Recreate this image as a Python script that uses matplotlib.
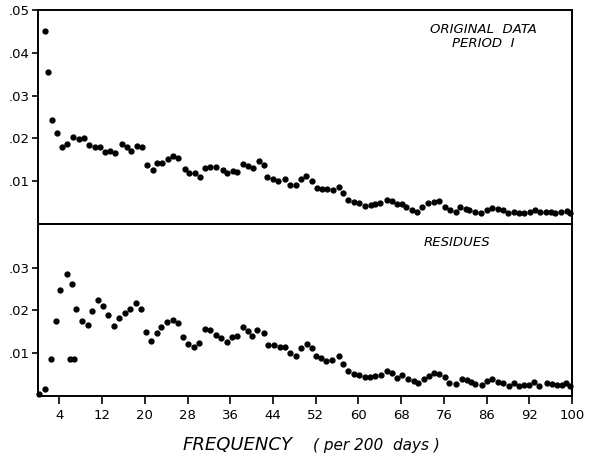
import matplotlib
matplotlib.use("Agg")
import matplotlib.pyplot as plt

# power spectrum, original data (period I)
top_freq = [1.3, 1.8,
            2.6, 3.5, 4.5, 5.5, 6.5, 7.6, 8.6, 9.6, 10.6, 11.7, 12.5, 13.5, 14.4, 15.7, 16.6, 17.5,
            18.5, 19.5, 20.5, 21.5, 22.2, 23.3, 24.3, 25.3, 26.3, 27.5, 28.2, 29.4, 30.3, 31.2, 32.3,
            33.3, 34.6, 35.3, 36.5, 37.3,
            38.3, 39.3, 40.3, 41.3, 42.4, 42.9, 44.0, 45.0, 46.2, 47.1, 48.3, 49.3, 50.2, 51.3, 52.3,
            53.2, 54.2, 55.2, 56.4, 57.2, 58.1, 59.2, 60.2, 61.3, 62.3, 63.2, 64.0, 65.4, 66.2, 67.2,
            68.1, 69.0, 70.0, 71.0, 72.0, 73.1, 74.1, 75.0,
            76.2, 77.2, 78.2, 79.0, 80.1, 80.8, 81.9, 82.9, 84.0, 85.1, 86.1, 87.1, 88.0, 89.1, 90.1,
            91.1, 92.1, 93.1, 94.0, 95.1, 96.1, 96.9, 97.9, 99.1, 99.6]
top_power = [.0452, .0354,
             .0243, .0212, .0180, .0186, .0204, .0198, .0200, .0185, .0179, .0181, .0169, .0171, .0165,
             .0186, .0180, .0170, .0182, .0179, .0139, .0127, .0142, .0142, .0152, .0160, .0155, .0129,
             .0118, .0118, .0110, .0131, .0134, .0134, .0127, .0120, .0123, .0122,
             .0140, .0136, .0132, .0147, .0139, .0110, .0105, .0100, .0105, .0092, .0092, .0104, .0112,
             .0100, .0085, .0081, .0081, .0079, .0086, .0072, .0055, .0051, .0048, .0043, .0044, .0047,
             .0050, .0055, .0054, .0046, .0046, .0039, .0032, .0028, .0039, .0048, .0052, .0053,
             .0040, .0032, .0028, .0040, .0035, .0033, .0028, .0026, .0033, .0038, .0036, .0032, .0025,
             .0028, .0025, .0025, .0029, .0032, .0028, .0029, .0028, .0025, .0027, .0030, .0025]

# power spectrum of the residues
res_freq = [0.1, 1.25, 2.5, 3.3, 4.2, 5.4, 6.3, 5.9, 6.7, 7.2, 8.2, 9.4, 10.2, 11.2, 12.2, 13.2, 14.2,
            15.2, 16.2, 17.3, 18.4, 19.3, 20.2, 21.1, 22.2, 23.1, 24.2, 25.2, 26.3, 27.2, 28.1, 29.3,
            30.2, 31.2, 32.3, 33.4, 34.3, 35.3, 36.3, 37.3, 38.3, 39.3, 40.1, 41.1, 42.3, 43.1, 44.2,
            45.3, 46.3, 47.2, 48.4, 49.2, 50.3, 51.3, 52.0, 53.0, 54.0, 55.0, 56.3, 57.2, 58.1, 59.1,
            60.2, 61.2, 62.2, 63.2, 64.2, 65.3, 66.3, 67.2, 68.1, 69.2, 70.4, 71.1, 72.2, 73.2, 74.2,
            75.1, 76.2, 77.0, 78.3, 79.4, 80.3, 81.0, 81.9, 83.1, 84.1, 85.1, 86.2, 87.0, 88.2, 89.2,
            90.1, 91.1, 92.0, 92.9, 93.9, 95.3, 96.2, 97.2, 98.1, 98.9, 99.6]
res_power = [.0003, .0015, .0086, .0176, .0248, .0284, .0262, .0085, .0087, .0204, .0174, .0165, .0199,
             .0225, .0210, .0189, .0163, .0181, .0193, .0203, .0216, .0202, .0148, .0128, .0146, .0160,
             .0172, .0178, .0170, .0138, .0121, .0115, .0123, .0155, .0153, .0142, .0135, .0125, .0137,
             .0139, .0160, .0152, .0140, .0153, .0147, .0118, .0118, .0114, .0113, .0100, .0094, .0112,
             .0122, .0111, .0092, .0088, .0082, .0084, .0092, .0074, .0059, .0050, .0048, .0043, .0043,
             .0045, .0049, .0057, .0053, .0041, .0048, .0039, .0034, .0029, .0038, .0046, .0052, .0050,
             .0043, .0029, .0028, .0039, .0036, .0032, .0028, .0025, .0034, .0040, .0033, .0029, .0022,
             .0029, .0022, .0024, .0024, .0032, .0023, .0030, .0027, .0026, .0025, .0029, .0022]

x_ticks = [4, 12, 20, 28, 36, 44, 52, 60, 68, 76, 84, 92, 100]
x_tick_labels = ['4', '12', '20', '28', '36', '44', '52', '60', '68', '76', '86', '92', '100']
top_yticks = [.01, .02, .03, .04, .05]
top_ylabels = ['.01', '.02', '.03', '.04', '.05']
res_yticks = [.01, .02, .03]
res_ylabels = ['.01', '.02', '.03']

plt.rcParams['font.family'] = ['DejaVu Sans']

fig = plt.figure(figsize=(5.91, 4.59), dpi=100)
W, H = 591, 459
left, right = 38 / W, 572 / W
ax1 = fig.add_axes([left, 1 - 224 / H, right - left, (224 - 10) / H])
ax2 = fig.add_axes([left, 1 - 395.7 / H, right - left, (395.7 - 224) / H])

for ax in (ax1, ax2):
    for sp in ax.spines.values():
        sp.set_linewidth(1.4)
    ax.set_xlim(0, 100)
    ax.tick_params(axis='y', direction='out', length=4.5, width=1.2, pad=1.5, labelsize=9.5)
    ax.tick_params(axis='x', direction='out', length=5.5, width=1.2, pad=4, labelsize=9.5)

ax1.plot(top_freq, top_power, 'o', color='black', ms=3.5, clip_on=False)
ax1.set_ylim(0, 0.05)
ax1.set_yticks(top_yticks)
ax1.set_yticklabels(top_ylabels)
ax1.set_xticks([])
ax1.text(0.834, 0.91, 'ORIGINAL  DATA', transform=ax1.transAxes, ha='center', va='center',
         fontsize=9.5, style='italic')
ax1.text(0.834, 0.842, 'PERIOD  I', transform=ax1.transAxes, ha='center', va='center',
         fontsize=9.5, style='italic')

ax2.plot(res_freq, res_power, 'o', color='black', ms=3.5, clip_on=False)
ax2.set_ylim(0, 0.0402)
ax2.set_yticks(res_yticks)
ax2.set_yticklabels(res_ylabels)
ax2.set_xticks(x_ticks)
ax2.set_xticklabels(x_tick_labels)
ax2.text(0.785, 0.89, 'RESIDUES', transform=ax2.transAxes, ha='center', va='center',
         fontsize=9.5, style='italic')

fig.text(183 / W, 1 - 450 / H, 'FREQUENCY', fontsize=13, style='italic',
         ha='left', va='baseline')
fig.text(313 / W, 1 - 450 / H, '( per 200  days )', fontsize=11, style='italic',
         ha='left', va='baseline')

fig.savefig('out.png', dpi=100)
